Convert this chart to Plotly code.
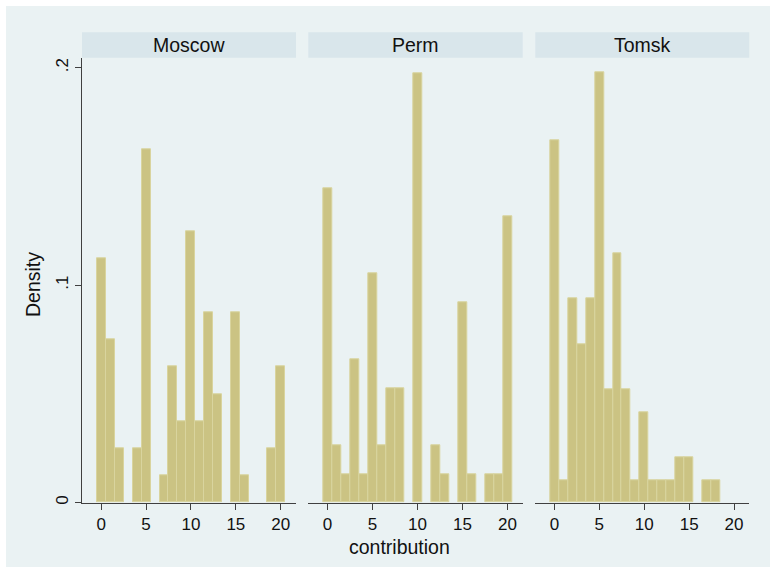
import plotly.graph_objects as go

W, H = 770, 569

bins = list(range(21))
cities = ["Moscow", "Perm", "Tomsk"]
moscow_density = [0.1125, 0.075, 0.025, 0, 0.025, 0.1625, 0, 0.0125, 0.0625, 0.0375, 0.125,
                  0.0375, 0.0875, 0.05, 0, 0.0875, 0.0125, 0, 0, 0.025, 0.0625]
perm_density = [0.1447, 0.0263, 0.0132, 0.0658, 0.0132, 0.1053, 0.0263, 0.0526, 0.0526, 0, 0.1974,
                0, 0.0263, 0.0132, 0, 0.0921, 0.0132, 0, 0.0132, 0.0132, 0.1316]
tomsk_density = [0.1667, 0.0104, 0.0938, 0.0729, 0.0938, 0.1979, 0.0521, 0.1146, 0.0521, 0.0104, 0.0417,
                 0.0104, 0.0104, 0.0104, 0.0208, 0.0208, 0, 0.0104, 0.0104, 0, 0]
x_ticks = [0, 5, 10, 15, 20]
y_ticks = [0, 0.1, 0.2]
y_ticktext = ["0", ".1", ".2"]

series = [moscow_density, perm_density, tomsk_density]

BG = "#EAF2F3"
STRIP = "#D9E6EB"
BAR = "#CBC383"
BAR_LINE = "#D9D49E"
AXIS = "#404040"
FONT = "Liberation Sans, Arial, sans-serif"
TICK_SIZE = 17
TITLE_SIZE = 19.5

panels_px = [(82, 296), (308.3, 522.7), (535.3, 749.3)]
y_top_px, y_bot_px = 58.5, 504.3
strip_top_px, strip_bot_px = 32.3, 58.0

def px_x(v):
    return v / W

def px_y(v):
    return 1 - v / H

fig = go.Figure()

for i, (vals, city) in enumerate(zip(series, cities)):
    suffix = "" if i == 0 else str(i + 1)
    yv = [v if v > 0 else None for v in vals]
    fig.add_trace(go.Bar(
        x=bins, y=yv, width=1,
        marker=dict(color=BAR, line=dict(color=BAR_LINE, width=1)),
        xaxis="x" + suffix, yaxis="y" + suffix,
        showlegend=False, hoverinfo="x+y",
    ))

layout = dict(
    width=W, height=H,
    margin=dict(l=0, r=0, t=0, b=0),
    paper_bgcolor="white",
    plot_bgcolor="white",
    font=dict(family=FONT, size=TICK_SIZE, color="#111111"),
    bargap=0,
    showlegend=False,
)

yr = [0, (y_bot_px - y_top_px) / ((y_bot_px - 68.0) / 0.2)]

for i, (x0, x1) in enumerate(panels_px):
    suffix = "" if i == 0 else str(i + 1)
    layout["xaxis" + suffix] = dict(
        domain=[px_x(x0), px_x(x1)],
        anchor="y" + suffix,
        range=[-2.13, 21.7],
        tickvals=x_ticks,
        ticks="outside", ticklen=6, tickcolor=AXIS, tickwidth=1,
        showline=True, linecolor=AXIS, linewidth=1,
        showgrid=False, zeroline=False,
        tickfont=dict(size=TICK_SIZE, family=FONT, color="#111111"),
        fixedrange=True,
    )
    ydict = dict(
        domain=[px_y(y_bot_px), px_y(y_top_px)],
        anchor="x" + suffix,
        range=yr,
        tickvals=y_ticks,
        showgrid=True, gridcolor=BG, gridwidth=1,
        zeroline=False,
        fixedrange=True,
    )
    if i == 0:
        ydict.update(
            ticktext=y_ticktext,
            ticks="outside", ticklen=6, tickcolor=AXIS,
            showline=True, linecolor=AXIS, linewidth=1,
            tickangle=-90,
            tickfont=dict(size=TICK_SIZE, family=FONT, color="#111111"),
        )
    else:
        ydict.update(showticklabels=False, showline=False, ticks="")
    layout["yaxis" + suffix] = ydict

shapes = [
    dict(type="rect", xref="paper", yref="paper", x0=px_x(6), x1=1, y0=0, y1=px_y(6),
         fillcolor=BG, line=dict(width=0), layer="below"),
]
annotations = []
for (x0, x1), city in zip(panels_px, cities):
    shapes.append(dict(type="rect", xref="paper", yref="paper",
                       x0=px_x(x0), x1=px_x(x1), y0=px_y(strip_bot_px), y1=px_y(strip_top_px),
                       fillcolor=STRIP, line=dict(width=0), layer="below"))
    annotations.append(dict(text=city, xref="paper", yref="paper",
                            x=px_x((x0 + x1) / 2), y=px_y((strip_top_px + strip_bot_px) / 2),
                            xanchor="center", yanchor="middle", showarrow=False,
                            font=dict(size=TITLE_SIZE, family=FONT, color="#111111")))

annotations.append(dict(text="Density", xref="paper", yref="paper",
                        x=px_x(33), y=px_y(286), textangle=-90,
                        xanchor="center", yanchor="middle", showarrow=False,
                        font=dict(size=TITLE_SIZE, family=FONT, color="#111111")))
annotations.append(dict(text="contribution", xref="paper", yref="paper",
                        x=px_x(400), y=px_y(549),
                        xanchor="center", yanchor="middle", showarrow=False,
                        font=dict(size=TITLE_SIZE, family=FONT, color="#111111")))

layout["shapes"] = shapes
layout["annotations"] = annotations
fig.update_layout(**layout)

fig.write_html("out.html")
